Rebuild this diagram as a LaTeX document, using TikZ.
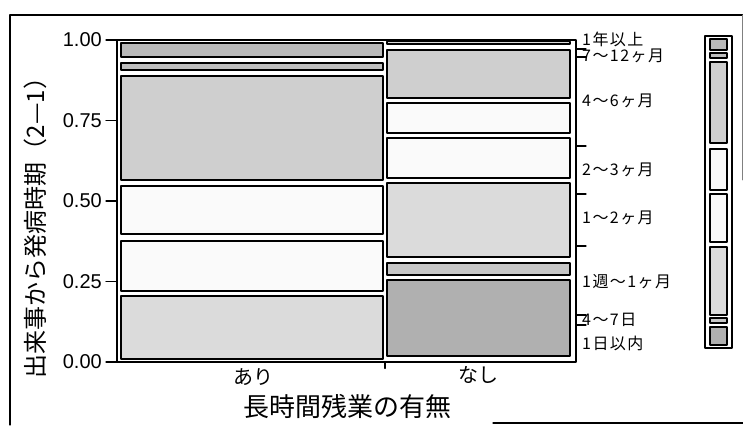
\documentclass[tikz,border=0pt]{standalone}
\usepackage{fontspec}
\setmainfont{Liberation Sans}
\newfontfamily\cjk{Noto Sans CJK JP}
\newfontfamily\cjkwide[LetterSpace=9]{Noto Sans CJK JP}
\tikzset{
  tile/.style={draw=black, line width=1.5pt},
  ticklab/.style={font=\fontsize{20}{20}\selectfont, anchor=east, inner sep=0pt},
  catlab/.style={font=\cjkwide\fontsize{16}{16}\selectfont, anchor=west, inner sep=0pt},
  bigcjk/.style={font=\cjk\fontsize{#1}{#1}\selectfont, inner sep=0pt}
}
\begin{document}
\begin{tikzpicture}[x=1pt,y=1pt,line join=round,line cap=round]
 \useasboundingbox (0,0) rectangle (743,425);
 % outer frame
 \draw[line width=1.2pt] (743,410)--(10,410)--(10,0);
 \draw[line width=1.2pt] (493,2)--(743,2);
 \draw[gray, line width=0.8pt] (742,410)--(742,245);
 % mosaic, y in proportions
 \begin{scope}[shift={(0,63)}, y=322pt]
  \def\xl{117}\def\xr{576}
  \draw[line width=1.2pt] (\xl,0) rectangle (\xr,1);
  \foreach \v/\t [count=\i] in {0/0.00,0.25/0.25,0.5/0.50,0.75/0.75,1/1.00}
   {\draw[line width=1.2pt] (\xl-11,\v)--(\xl,\v);
    \node[ticklab] (ytick\i) at (\xl-15,\v) {\t};}
  % ari
  \foreach \a/\b/\c in {0.991/0.947/55, 0.929/0.907/50, 0.888/0.565/38,
                        0.547/0.398/4, 0.376/0.220/4, 0.205/0.009/28}
   \draw[tile, fill=gray!\c] (121,\a) rectangle (383,\b);
  % nashi
  \foreach \a/\b/\c in {0.996/0.988/30, 0.969/0.820/38, 0.804/0.711/4,
                        0.696/0.571/4, 0.556/0.326/28, 0.307/0.270/45,
                        0.255/0.019/62}
   \draw[tile, fill=gray!\c] (387,\a) rectangle (570,\b);
  % right axis
  \foreach \v in {0.972,0.947,0.671,0.522,0.360,0.146,0.115}
   \draw[line width=1.2pt] (\xr,\v)--(\xr+10,\v);
  \draw[line width=1.2pt] (385,0)--(385,-0.02);
 \end{scope}
 \node[bigcjk=20] (ari) at (253,48) {あり};
 \node[bigcjk=20] (nashi) at (478,50) {なし};
 \node[bigcjk=26] (xtitle) at (347,18) {長時間残業の有無};
 \node[bigcjk=24, rotate=90] (ytitle) at (35,203) {出来事から発病時期（2—1）};
 \foreach \y/\t [count=\i] in {386/1年以上, 369/7～12ヶ月, 324/4～6ヶ月,
   255/2～3ヶ月, 207/1～2ヶ月, 143/1週～1ヶ月, 105/4～7日, 82/1日以内}
  \node[catlab] (cat\i) at (582,\y) {\t};
 % legend bar
 \draw[tile] (705,389) rectangle (732,77);
 \foreach \a/\b/\c in {386/375/55, 372/367/50, 363/282/38, 276/235/4,
                       231/183/4, 178/110/28, 107/102/45, 98/80/62}
  \draw[tile, fill=gray!\c] (710,\a) rectangle (727,\b);
\end{tikzpicture}
\end{document}
